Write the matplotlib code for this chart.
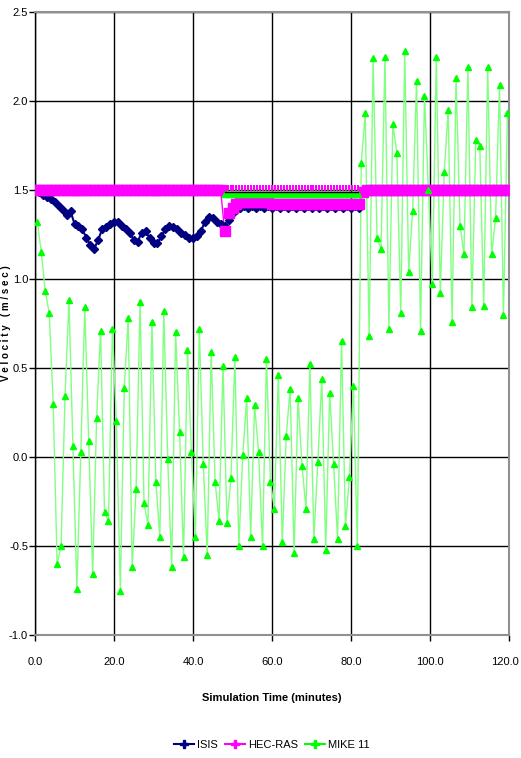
import numpy as np
import matplotlib
matplotlib.use("Agg")
import matplotlib.pyplot as plt
import matplotlib.transforms as mtransforms
from matplotlib.lines import Line2D

plt.rcParams['font.family'] = ['Liberation Sans', 'DejaVu Sans']

# MIKE 11 samples, one per minute starting at 0.6 min
mike_t = np.arange(0.6, 120.0, 1.0)
mike_v = [1.32, 1.15, 0.93, 0.81, 0.30, -0.60, -0.50, 0.34, 0.88, 0.06,
          -0.74, 0.03, 0.84, 0.09, -0.66, 0.22, 0.71, -0.31, -0.36, 0.72,
          0.20, -0.75, 0.39, 0.78, -0.62, -0.18, 0.87, -0.26, -0.38, 0.76,
          -0.14, -0.45, 0.82, -0.01, -0.62, 0.70, 0.14, -0.56, 0.60, 0.03,
          -0.45, 0.72, -0.04, -0.55, 0.59, -0.14, -0.36, 0.51, -0.37, -0.12,
          0.56, -0.50, 0.01, 0.33, -0.45, 0.29, 0.03, -0.50, 0.55, -0.14,
          -0.29, 0.46, -0.48, 0.12, 0.38, -0.54, 0.33, -0.05, -0.29, 0.52,
          -0.46, -0.03, 0.44, -0.52, 0.36, -0.04, -0.46, 0.65, -0.39, -0.11,
          0.40, -0.50, 1.65, 1.93, 0.68, 2.24, 1.23, 1.17, 2.25, 0.72,
          1.87, 1.71, 0.81, 2.28, 1.04, 1.38, 2.11, 0.71, 2.03, 1.50,
          0.97, 2.25, 0.92, 1.60, 1.95, 0.76, 2.13, 1.30, 1.14, 2.19,
          0.84, 1.78, 1.75, 0.85, 2.19, 1.14, 1.34, 2.09, 0.80, 1.93]

# ISIS, one per minute
isis_t = np.arange(0, 121, 1.0)
isis_v = [1.50, 1.49, 1.47, 1.46, 1.45, 1.43, 1.41, 1.39, 1.36, 1.38,
          1.31, 1.30, 1.28, 1.23, 1.19, 1.17, 1.22, 1.28, 1.29, 1.31,
          1.32, 1.32, 1.30, 1.28, 1.26, 1.22, 1.21, 1.26, 1.27, 1.23,
          1.20, 1.20, 1.24, 1.28, 1.30, 1.29, 1.28, 1.26, 1.25, 1.23,
          1.23, 1.24, 1.27, 1.32, 1.35, 1.34, 1.32, 1.31, 1.30, 1.33,
          1.37, 1.39, 1.40, 1.41, 1.40, 1.41, 1.40, 1.41, 1.40, 1.41,
          1.40, 1.41, 1.40, 1.41, 1.40, 1.41, 1.40, 1.41, 1.40, 1.41,
          1.40, 1.41, 1.40, 1.41, 1.40, 1.41, 1.40, 1.41, 1.40, 1.41,
          1.40, 1.41, 1.40, 1.50, 1.50, 1.50, 1.50, 1.50, 1.50, 1.50,
          1.50, 1.50, 1.50, 1.50, 1.50, 1.50, 1.50, 1.50, 1.50, 1.50,
          1.50, 1.50, 1.50, 1.50, 1.50, 1.50, 1.50, 1.50, 1.50, 1.50,
          1.50, 1.50, 1.50, 1.50, 1.50, 1.50, 1.50, 1.50, 1.50, 1.50,
          1.50]

# HEC-RAS, one per minute
hec_t = np.arange(0, 121, 1.0)
hec_v = [1.50] * 48 + [1.27, 1.37, 1.40, 1.42, 1.43, 1.43, 1.43, 1.43, 1.43, 1.43,
                       1.43, 1.43, 1.42, 1.42, 1.42, 1.42, 1.42, 1.42, 1.42, 1.42,
                       1.42, 1.42, 1.42, 1.42, 1.42, 1.42, 1.42, 1.42, 1.42, 1.42,
                       1.42, 1.42, 1.42, 1.42, 1.42, 1.49] + [1.50] * 37

# flat strip drawn at 1.5 between 48 and 82 min
strip_t = np.arange(48.0, 82.5, 0.75)
strip_v = 1.5

NAVY = "#000080"
MAGENTA = "#FF00FF"
GREEN = "#00FF00"
LGREEN = "#80FF80"

fig = plt.figure(figsize=(5.21, 7.58), dpi=100)
ax = fig.add_axes([35 / 521, 1 - 635 / 758, 474 / 521, 623 / 758])

# lines first, markers on top (spreadsheet style)
ax.plot(isis_t, isis_v, color=NAVY, lw=1.5, zorder=2)
ax.plot(hec_t, hec_v, color=MAGENTA, lw=1, zorder=2)
ax.plot(mike_t, mike_v, color=LGREEN, lw=1, zorder=2)

ax.plot(isis_t, isis_v, ls="none", marker="D", ms=4.5, color=NAVY, zorder=3)
ax.plot(hec_t, hec_v, ls="none", marker="s", ms=7, color=MAGENTA, zorder=3)

ax.plot(strip_t, [strip_v - 0.025] * len(strip_t), ls="none", marker="^", ms=5,
        color=GREEN, zorder=3.1)
ax.plot(strip_t, [strip_v - 0.01] * len(strip_t), color="black", lw=1, zorder=3.2)
ax.plot(strip_t, [strip_v + 0.01] * len(strip_t), ls="none", marker="|", ms=4,
        mew=1.5, color=MAGENTA, zorder=3.2)

ax.plot(mike_t, mike_v, ls="none", marker="^", ms=5, color=GREEN, zorder=4)

ax.set_xlim(0, 120)
ax.set_ylim(-1.0, 2.5)
ax.set_xticks(np.arange(0, 121, 20))
ax.set_yticks(np.arange(-1.0, 2.51, 0.5))
ax.set_xticklabels([f"{v:.1f}" for v in np.arange(0, 121, 20)], fontsize=8)
ax.set_yticklabels([f"{v:.1f}" for v in np.arange(-1.0, 2.51, 0.5)], fontsize=8)
ax.tick_params(axis="x", direction="out", length=4, width=1, pad=12, color="black")
ax.tick_params(axis="y", direction="out", length=4, width=1, pad=1, color="black")
ax.grid(True, color="black", lw=1)
ax.set_axisbelow(True)

# nudge the last x label so it stays inside the figure
last = ax.get_xticklabels()[-1]
last.set_transform(last.get_transform() +
                   mtransforms.ScaledTranslation(-4 / 100, 0, fig.dpi_scale_trans))

for side in ["top", "right", "bottom"]:
    ax.spines[side].set_color("#909090")
    ax.spines[side].set_linewidth(1.5)
ax.spines["left"].set_color("black")
ax.spines["left"].set_linewidth(1)

ax.set_xlabel("Simulation Time (minutes)", fontsize=8, fontweight="bold")
ax.xaxis.set_label_coords(0.5, -(693 - 635) / 623)
ax.set_ylabel("V e l o c i t y   ( m / s e c )", fontsize=7, fontweight="bold")
ax.yaxis.set_label_coords(-(35 - 11) / 474, 0.5)

handles = [
    Line2D([], [], color=NAVY, marker="P", ms=6, lw=1.5, label="ISIS"),
    Line2D([], [], color=MAGENTA, marker="P", ms=6, lw=1.5, label="HEC-RAS"),
    Line2D([], [], color=GREEN, marker="P", ms=6, lw=1.5, label="MIKE 11"),
]
fig.legend(handles=handles, loc="center", bbox_to_anchor=(272 / 521, 1 - 745 / 758),
           ncol=3, frameon=False, fontsize=8, handlelength=1.8, handletextpad=0.3,
           columnspacing=0.6)

fig.savefig("out.png", dpi=100)
